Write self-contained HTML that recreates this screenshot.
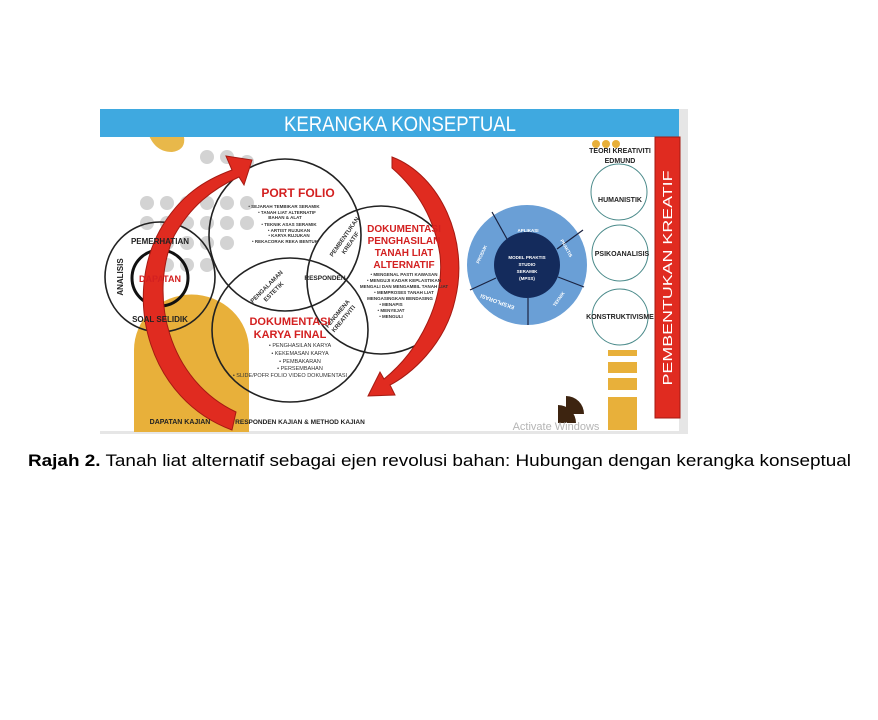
<!DOCTYPE html>
<html><head><meta charset="utf-8"><style>
html,body{margin:0;padding:0;background:#fff;width:878px;height:720px;overflow:hidden}
svg{display:block}
text{font-family:"Liberation Sans",sans-serif}
</style></head><body>
<svg width="878" height="720" viewBox="0 0 878 720" xmlns="http://www.w3.org/2000/svg">
<rect x="100" y="109" width="588" height="325" fill="#fff"/>
<rect x="679" y="109" width="9" height="325" fill="#e6e6e6"/>
<rect x="100" y="431" width="588" height="3" fill="#e6e6e6"/>
<path d="M144 109 Q146 152 172 152 Q186 150 184 137 L184 109Z" fill="#e8b84a"/>
<rect x="100" y="109" width="579" height="28" fill="#3fa9e0"/>
<text x="400" y="131" font-size="21" fill="#fff" text-anchor="middle" textLength="232" lengthAdjust="spacingAndGlyphs">KERANGKA KONSEPTUAL</text>
<g fill="#d3d3d3">
<circle cx="207" cy="157" r="7"/><circle cx="227" cy="157" r="7"/><circle cx="247" cy="162" r="7"/>
<circle cx="147" cy="203" r="7"/><circle cx="167" cy="203" r="7"/><circle cx="187" cy="203" r="7"/><circle cx="207" cy="203" r="7"/><circle cx="227" cy="203" r="7"/><circle cx="247" cy="203" r="7"/>
<circle cx="147" cy="223" r="7"/><circle cx="167" cy="223" r="7"/><circle cx="187" cy="223" r="7"/><circle cx="207" cy="223" r="7"/><circle cx="227" cy="223" r="7"/><circle cx="247" cy="223" r="7"/>
<circle cx="167" cy="243" r="7"/><circle cx="187" cy="243" r="7"/><circle cx="207" cy="243" r="7"/><circle cx="227" cy="243" r="7"/>
<circle cx="167" cy="265" r="7"/><circle cx="187" cy="265" r="7"/><circle cx="207" cy="265" r="7"/>
</g>
<path d="M134 432 L134 350 A57 55 0 0 1 249 350 L249 432Z" fill="#e8b03a"/>
<g fill="none" stroke="#222" stroke-width="1.6">
<circle cx="160" cy="277" r="55"/>
<circle cx="285" cy="235" r="76"/>
<ellipse cx="290" cy="330" rx="78" ry="72"/>
<circle cx="381" cy="280" r="74"/>
</g>
<circle cx="160" cy="278" r="28" fill="none" stroke="#111" stroke-width="3"/>
<path d="M232 430 C150 400 122 300 160 230 C180 195 205 180 232 170 L226 156 L252 160 L244 185 L239 177 C212 189 190 207 174 236 C148 295 168 380 236 412Z" fill="#e02b20" stroke="#a51a12" stroke-width="1"/>
<path d="M392 157 C440 175 470 240 455 300 C445 345 410 375 390 385 L395 395 L368 396 L380 372 L384 379 C420 350 445 300 440 255 C434 215 415 188 392 168Z" fill="#e02b20" stroke="#a51a12" stroke-width="1"/>
<text x="160" y="244" font-size="8" font-weight="bold" text-anchor="middle" fill="#222">PEMERHATIAN</text>
<text x="160" y="282" font-size="9" font-weight="bold" text-anchor="middle" fill="#d32020">DAPATAN</text>
<text x="160" y="322" font-size="8" font-weight="bold" text-anchor="middle" fill="#222">SOAL SELIDIK</text>
<text x="0" y="0" font-size="8" font-weight="bold" text-anchor="middle" fill="#222" transform="translate(123,277) rotate(-90)">ANALISIS</text>
<text x="298" y="197" font-size="12" font-weight="bold" text-anchor="middle" fill="#d32020">PORT FOLIO</text>
<g font-size="4.5" font-weight="bold" fill="#333" text-anchor="middle">
<text x="284" y="208">• SEJARAH TEMBIKAR SERAMIK</text>
<text x="287" y="214">• TANAH LIAT ALTERNATIF</text>
<text x="285" y="219">BAHAN &amp; ALAT</text>
<text x="289" y="226">• TEKNIK ASAS SERAMIK</text>
<text x="289" y="232">• ARTIST RUJUKAN</text>
<text x="289" y="237">• KARYA RUJUKAN</text>
<text x="285" y="243">• REKACORAK REKA BENTUK</text>
</g>
<text x="0" y="0" font-size="6" font-weight="bold" text-anchor="middle" fill="#333" transform="translate(346,238) rotate(-55)">PEMBENTUKAN</text>
<text x="0" y="0" font-size="6" font-weight="bold" text-anchor="middle" fill="#333" transform="translate(352,244) rotate(-55)">KREATIF</text>
<text x="0" y="0" font-size="6" font-weight="bold" text-anchor="middle" fill="#333" transform="translate(268,288) rotate(-45)">PENGALAMAN</text>
<text x="0" y="0" font-size="6" font-weight="bold" text-anchor="middle" fill="#333" transform="translate(275,293) rotate(-45)">ESTETIK</text>
<text x="325" y="280" font-size="6.5" font-weight="bold" text-anchor="middle" fill="#222">RESPONDEN</text>
<text x="0" y="0" font-size="6" font-weight="bold" text-anchor="middle" fill="#333" transform="translate(339,315) rotate(-50)">FENOMENA</text>
<text x="0" y="0" font-size="6" font-weight="bold" text-anchor="middle" fill="#333" transform="translate(345,320) rotate(-50)">KREATIVITI</text>
<g font-size="10" font-weight="bold" fill="#d32020" text-anchor="middle">
<text x="404" y="232">DOKUMENTASI</text>
<text x="404" y="244">PENGHASILAN</text>
<text x="404" y="256">TANAH LIAT</text>
<text x="404" y="268">ALTERNATIF</text>
</g>
<g font-size="4.5" font-weight="bold" fill="#333" text-anchor="middle">
<text x="404" y="276">• MENGENAL PASTI KAWASAN</text>
<text x="404" y="282">• MENGUJI KADAR KEPLASTIKAN</text>
<text x="404" y="288">MENGALI DAN MENGAMBIL TANAH LIAT</text>
<text x="404" y="294">• MEMPROSES TANAH LIAT</text>
<text x="400" y="300">MENGASINGKAN BENDASING</text>
<text x="391" y="306">• MENAPIS</text>
<text x="391" y="312">• MENYEJAT</text>
<text x="391" y="318">• MENGULI</text>
</g>
<text x="290" y="325" font-size="11" font-weight="bold" text-anchor="middle" fill="#d32020">DOKUMENTASI</text>
<text x="290" y="338" font-size="11" font-weight="bold" text-anchor="middle" fill="#d32020">KARYA FINAL</text>
<g font-size="5.5" fill="#333" text-anchor="middle">
<text x="300" y="347">• PENGHASILAN KARYA</text>
<text x="300" y="355">• KEKEMASAN KARYA</text>
<text x="300" y="363">• PEMBAKARAN</text>
<text x="300" y="370">• PERSEMBAHAN</text>
<text x="290" y="377">• SLIDE/POFR FOLIO VIDEO DOKUMENTASI</text>
</g>
<text x="180" y="424" font-size="7" font-weight="bold" text-anchor="middle" fill="#222">DAPATAN KAJIAN</text>
<text x="300" y="424" font-size="6.5" font-weight="bold" text-anchor="middle" fill="#222">RESPONDEN KAJIAN &amp; METHOD KAJIAN</text>
<circle cx="527" cy="265" r="60" fill="#6a9fd6"/>
<circle cx="527" cy="265" r="33" fill="#142b5c"/>
<g stroke="#1a2240" stroke-width="1.2">
<line x1="507" y1="239" x2="492" y2="212"/>
<line x1="557" y1="249" x2="583" y2="230"/>
<line x1="558" y1="277" x2="584" y2="287"/>
<line x1="528" y1="298" x2="528" y2="325"/>
<line x1="496" y1="278" x2="470" y2="290"/>
</g>
<g font-size="4.5" fill="#fff" font-weight="bold" text-anchor="middle">
<text x="528" y="232">APLIKASI</text>
<text x="527" y="259">MODEL PRAKTIS</text>
<text x="527" y="266">STUDIO</text>
<text x="527" y="273">SERAMIK</text>
<text x="527" y="280">(MPSS)</text>
<text transform="translate(565,249) rotate(60)">PRAKTIS</text>
<text transform="translate(560,300) rotate(-55)">TEKNIK</text>
<text transform="translate(498,300) rotate(200)" font-size="5.5">EKSPLORASI</text>
<text transform="translate(483,255) rotate(-65)">PRODUK</text>
</g>
<g fill="#e8b03a">
<circle cx="596" cy="144" r="4"/><circle cx="606" cy="144" r="4"/><circle cx="616" cy="144" r="4"/>
<rect x="608" y="350" width="29" height="6"/>
<rect x="608" y="362" width="29" height="11"/>
<rect x="608" y="378" width="29" height="12"/>
<rect x="608" y="397" width="29" height="33"/>
</g>
<text x="620" y="153" font-size="7" font-weight="bold" text-anchor="middle" fill="#222">TEORI KREATIVITI</text>
<text x="620" y="163" font-size="7" font-weight="bold" text-anchor="middle" fill="#222">EDMUND</text>
<g fill="none" stroke="#4a8a8a" stroke-width="1">
<circle cx="619" cy="192" r="28"/>
<circle cx="620" cy="253" r="28"/>
<circle cx="620" cy="317" r="28"/>
</g>
<g font-size="7" font-weight="bold" text-anchor="middle" fill="#222">
<text x="620" y="202">HUMANISTIK</text>
<text x="622" y="256">PSIKOANALISIS</text>
<text x="620" y="319">KONSTRUKTIVISME</text>
</g>
<rect x="655" y="137" width="25" height="281" fill="#e02b20" stroke="#a51a12" stroke-width="1"/>
<text x="0" y="0" font-size="12.5" fill="#fff" text-anchor="middle" transform="translate(672,278) rotate(-90)" textLength="215" lengthAdjust="spacingAndGlyphs">PEMBENTUKAN KREATIF</text>
<path d="M566 396 A18 18 0 0 1 584 414 L566 414Z" fill="#3d2410"/>
<path d="M558 405 A18 18 0 0 1 576 423 L558 423Z" fill="#3d2410"/>
<text x="556" y="430" font-size="11" fill="#b5b5b5" text-anchor="middle">Activate Windows</text>
<text x="28" y="466" font-size="17" fill="#000" textLength="823" lengthAdjust="spacingAndGlyphs"><tspan font-weight="bold">Rajah 2.</tspan> Tanah liat alternatif sebagai ejen revolusi bahan: Hubungan dengan kerangka konseptual</text>
</svg>
</body></html>
